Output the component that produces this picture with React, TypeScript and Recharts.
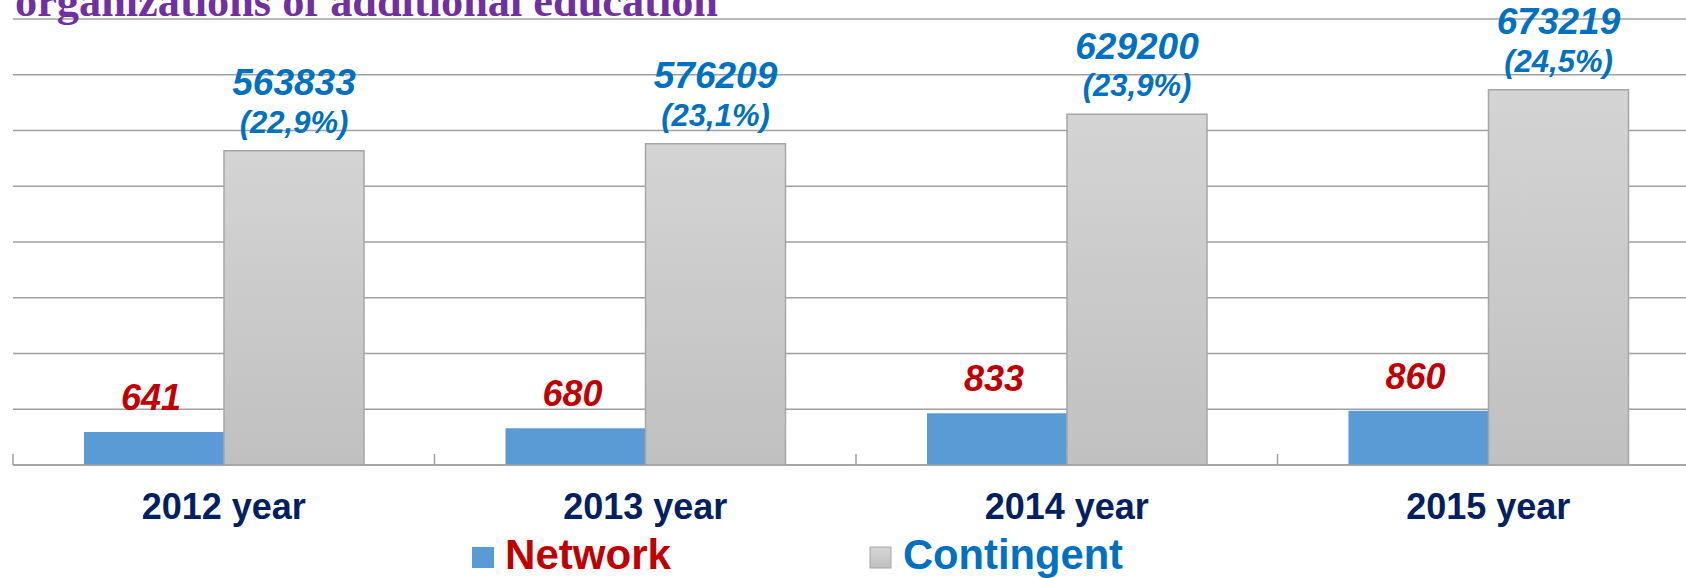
import React from 'react';
import { BarChart, Bar, XAxis, YAxis, CartesianGrid, LabelList, Legend } from 'recharts';

// ---- data ----
const years = ['2012 year', '2013 year', '2014 year', '2015 year'];
const network = [641, 680, 833, 860];
const contingent = [563833, 576209, 629200, 673219];
const contingentShare = ['(22,9%)', '(23,1%)', '(23,9%)', '(24,5%)'];
const contingentTicks = [0, 100000, 200000, 300000, 400000, 500000, 600000, 700000, 800000];
const networkDomain = [300, 4900];
const titleText = 'organizations of additional education';
const legendNames = ['Network', 'Contingent'];

const data = years.map((year, i) => ({ year, network: network[i], contingent: contingent[i] }));

// ---- layout / style ----
const VIEW_W = 1686;
const VIEW_H = 578;
const MARGIN = { top: 19, right: 0, left: 13, bottom: 0 };
const PLOT_W = 1686;
const CHART_W = MARGIN.left + PLOT_W + MARGIN.right;
const GRID = '#A0A0A0';
const SANS = '"Liberation Sans", Arial, sans-serif';

const XTick = (props: any) => {
  const { x, y, payload } = props;
  const half = PLOT_W / years.length / 2;
  return (
    <g>
      <line x1={x - half} x2={x - half} y1={y - 11} y2={y} stroke={GRID} strokeWidth={1.5} />
      <text
        x={x}
        y={y + 54}
        textAnchor="middle"
        fontFamily={SANS}
        fontSize={36}
        fontWeight="bold"
        fill="#002060"
      >
        {payload.value}
      </text>
    </g>
  );
};

const NetworkLabel = (props: any) => {
  const { x, y, width, value } = props;
  return (
    <text
      x={x + width / 2 - 3}
      y={y - 22}
      textAnchor="middle"
      fontFamily={SANS}
      fontSize={36}
      fontWeight="bold"
      fontStyle="italic"
      fill="#C00000"
    >
      {value}
    </text>
  );
};

const ContingentLabel = (props: any) => {
  const { x, y, width, value, index } = props;
  const cx = x + width / 2;
  return (
    <g fontFamily={SANS} fontWeight="bold" fontStyle="italic" fill="#0070C0" textAnchor="middle">
      <text x={cx} y={y - 18 - 37.5} fontSize={37}>
        {value}
      </text>
      <text x={cx} y={y - 18} fontSize={31}>
        {contingentShare[index]}
      </text>
    </g>
  );
};

const renderLegend = () => (
  <svg width={VIEW_W} height={48} style={{ display: 'block', overflow: 'visible' }}>
    <defs>
      <linearGradient id="legendGray" x1="0" y1="0" x2="0" y2="1">
        <stop offset="0%" stopColor="#D6D6D6" />
        <stop offset="100%" stopColor="#BFBFBF" />
      </linearGradient>
    </defs>
    <rect x={472} y={17} width={22} height={21} fill="#5B9BD5" />
    <text
      x={505}
      y={39}
      fontFamily={SANS}
      fontSize={42}
      fontWeight="bold"
      fill="#C00000"
      textLength={166}
      lengthAdjust="spacingAndGlyphs"
    >
      {legendNames[0]}
    </text>
    <rect x={870} y={17} width={21} height={21} fill="url(#legendGray)" stroke="#A6A6A6" strokeWidth={1} />
    <text
      x={903}
      y={39}
      fontFamily={SANS}
      fontSize={42}
      fontWeight="bold"
      fill="#0070C0"
      textLength={220}
      lengthAdjust="spacingAndGlyphs"
    >
      {legendNames[1]}
    </text>
  </svg>
);

export default function App() {
  return (
    <div
      style={{
        position: 'fixed',
        left: 0,
        top: 0,
        width: VIEW_W,
        height: VIEW_H,
        overflow: 'hidden',
        background: '#FFFFFF',
      }}
    >
      <BarChart
        width={CHART_W}
        height={VIEW_H}
        data={data}
        margin={MARGIN}
        barGap={0}
        barCategoryGap={0}
      >
        <defs>
          <linearGradient id="grayGrad" x1="0" y1="0" x2="0" y2="1">
            <stop offset="0%" stopColor="#D4D4D4" />
            <stop offset="100%" stopColor="#C0C0C0" />
          </linearGradient>
        </defs>
        <CartesianGrid yAxisId="c" vertical={false} stroke={GRID} strokeWidth={1.5} />
        <XAxis
          dataKey="year"
          height={113}
          tickSize={0}
          tickMargin={0}
          tickLine={false}
          axisLine={{ stroke: GRID, strokeWidth: 1.5 }}
          tick={<XTick />}
          interval={0}
        />
        <YAxis yAxisId="c" hide domain={[0, 800000]} ticks={contingentTicks} allowDataOverflow />
        <YAxis yAxisId="n" hide domain={networkDomain} allowDataOverflow />
        <Legend
          verticalAlign="middle"
          layout="horizontal"
          content={renderLegend}
          wrapperStyle={{ top: 530, left: 0, width: VIEW_W, height: 48, margin: 0, padding: 0 }}
        />
        <Bar yAxisId="n" dataKey="network" name="Network" fill="#5B9BD5" barSize={140} isAnimationActive={false}>
          <LabelList dataKey="network" content={<NetworkLabel />} />
        </Bar>
        <Bar
          yAxisId="c"
          dataKey="contingent"
          name="Contingent"
          fill="url(#grayGrad)"
          stroke="#A6A6A6"
          strokeWidth={1.5}
          barSize={140}
          isAnimationActive={false}
        >
          <LabelList dataKey="contingent" content={<ContingentLabel />} />
        </Bar>
      </BarChart>
      <svg
        width={VIEW_W}
        height={40}
        style={{ position: 'absolute', left: 0, top: 0, pointerEvents: 'none' }}
      >
        <text
          x={15}
          y={16}
          fontFamily='"Liberation Serif", "Times New Roman", serif'
          fontSize={44}
          fontWeight="bold"
          fill="#7030A0"
          textLength={703}
          lengthAdjust="spacingAndGlyphs"
        >
          {titleText}
        </text>
      </svg>
    </div>
  );
}
